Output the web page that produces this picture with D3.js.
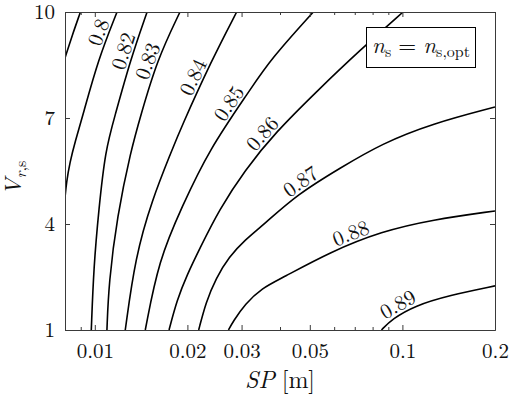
<!DOCTYPE html>
<html>

<head>
  <meta charset="utf-8">
  <title>SP vs Vr,s contour</title>
  <style>
    body { margin: 0; background: #fff; }
    svg text { font-family: "Latin Modern Roman", "CMU Serif", "Liberation Serif", "Times New Roman", "DejaVu Serif", serif; fill: #111; }
  </style>
</head>

<body>
  <svg width="510" height="397"></svg>
  <script src="https://d3js.org/d3.v7.min.js"></script>
  <script>
    // contour levels, left to right (first one has no label in the figure)
    var levels = [0.78, 0.8, 0.82, 0.83, 0.84, 0.85, 0.86, 0.87, 0.88, 0.89];
    var labelText = ["", "0.8", "0.82", "0.83", "0.84", "0.85", "0.86", "0.87", "0.88", "0.89"];

    // each contour as [SP, V] points
    var line078 = [[0.00898, 10], [0.00843, 9.32], [0.0080, 8.70]];
    var line080 = [[0.01181, 10], [0.01024, 8.64], [0.00915, 7.08], [0.00862, 6.32], [0.00830, 5.75], [0.00809, 5.19], [0.0080, 4.74]];
    var line082 = [[0.01479, 10], [0.01305, 8.64], [0.01160, 7.03], [0.01082, 6.09], [0.01030, 4.40], [0.00992, 2.79], [0.00974, 1]];
    var line083 = [[0.01892, 10], [0.01593, 8.64], [0.01406, 7.03], [0.01311, 6.09], [0.01181, 4.21], [0.01110, 2.32], [0.01095, 1]];
    var line084 = [[0.02892, 10], [0.02399, 8.64], [0.01892, 6.66], [0.01782, 6.09], [0.01534, 4.68], [0.01354, 3.07], [0.01256, 1]];
    var line085 = [[0.05133, 10], [0.03711, 8.64], [0.03196, 7.79], [0.02346, 6.09], [0.01921, 4.49], [0.01614, 2.98], [0.01459, 1]];
    var line086 = [[0.1005, 10], [0.0728, 8.92], [0.05316, 7.79], [0.03853, 6.58], [0.03078, 5.53], [0.02534, 4.40], [0.02198, 3.32], [0.01994, 2.56], [0.01850, 1.85], [0.01743, 1]];
    var line087 = [[0.2, 7.31], [0.1248, 6.84], [0.0855, 6.27], [0.0632, 5.60], [0.0455, 4.84], [0.0354, 3.98], [0.03078, 3.55], [0.02731, 3.07], [0.02478, 2.47], [0.02298, 1.79], [0.02176, 1]];
    var line088 = [[0.2, 4.37], [0.1248, 4.12], [0.0855, 3.79], [0.0586, 3.22], [0.0402, 2.45], [0.0350, 2.19], [0.0308, 1.74], [0.0281, 1.23], [0.0272, 1]];
    var line089 = [[0.2, 2.25], [0.1418, 1.98], [0.1099, 1.69], [0.0925, 1.31], [0.0855, 1]];
    var contourLines = [line078, line080, line082, line083, line084, line085, line086, line087, line088, line089];

    // where each label sits (SP, V), null = no label
    var labelAt = [null, [0.00987, 9.49], [0.01226, 8.90], [0.01479, 8.61], [0.02009, 8.22],
      [0.02684, 7.46], [0.03405, 6.65], [0.0450, 5.41], [0.0665, 3.93], [0.0946, 1.88]];

    var xTicks = [0.01, 0.02, 0.03, 0.05, 0.1, 0.2];
    var xMinor = [0.009, 0.04, 0.06, 0.07, 0.08, 0.09];
    var yTicks = [1, 4, 7, 10];

    var svg = d3.select("svg");
    var pLeft = 65, pTop = 12, pRight = 495, pBottom = 330;

    var x = d3.scaleLog().domain([0.008, 0.2]).range([pLeft, pRight]);
    var y = d3.scaleLinear().domain([1, 10]).range([pBottom, pTop]);

    svg.append("clipPath").attr("id", "plot")
      .append("rect").attr("x", pLeft).attr("y", pTop)
      .attr("width", pRight - pLeft).attr("height", pBottom - pTop);

    // contour lines
    var lineGen = d3.line()
      .x(function (d) { return x(d[0]); })
      .y(function (d) { return y(d[1]); })
      .curve(d3.curveBasis);

    var paths = svg.append("g")
      .attr("clip-path", "url(#plot)")
      .selectAll("path")
      .data(contourLines)
      .enter()
      .append("path")
      .attr("d", lineGen)
      .attr("fill", "none")
      .attr("stroke", "#000")
      .attr("stroke-width", 1.6);

    // labels sit just above their line, turned with it
    var labels = svg.append("g");
    paths.each(function (d, i) {
      if (!labelAt[i]) return;
      var node = this;
      var tx = x(labelAt[i][0]), ty = y(labelAt[i][1]);
      var len = node.getTotalLength(), best = 0, bestD = Infinity;
      for (var s = 0; s <= len; s += 0.5) {
        var p = node.getPointAtLength(s);
        var dd = (p.x - tx) * (p.x - tx) + (p.y - ty) * (p.y - ty);
        if (dd < bestD) { bestD = dd; best = s; }
      }
      var p0 = node.getPointAtLength(best);
      var p1 = node.getPointAtLength(Math.max(0, best - 4));
      var p2 = node.getPointAtLength(Math.min(len, best + 4));
      var ang = Math.atan2(p2.y - p1.y, p2.x - p1.x) * 180 / Math.PI;
      if (ang > 90) ang -= 180;
      if (ang < -90) ang += 180;
      labels.append("text")
        .attr("transform", "translate(" + p0.x + "," + p0.y + ") rotate(" + ang + ")")
        .attr("y", -3)
        .attr("text-anchor", "middle")
        .attr("font-size", 21)
        .text(labelText[i]);
    });

    // axes: ticks point inwards on all four sides
    var axisColor = "#3a3a3a";
    function style(g) {
      g.attr("font-family", null);
      g.select(".domain").attr("stroke", axisColor).attr("stroke-width", 1);
      g.selectAll(".tick line").attr("stroke", axisColor);
      g.selectAll(".tick text").attr("font-size", 21).attr("fill", "#111");
    }

    svg.append("g").attr("transform", "translate(0," + pBottom + ")")
      .call(d3.axisBottom(x).tickValues(xTicks).tickSize(-5).tickSizeOuter(0).tickPadding(13)
        .tickFormat(function (d) { return String(d); }))
      .call(style);
    svg.append("g").attr("transform", "translate(0," + pBottom + ")")
      .call(d3.axisBottom(x).tickValues(xMinor).tickSize(-3).tickSizeOuter(0).tickFormat(""))
      .call(style);
    svg.append("g").attr("transform", "translate(0," + pTop + ")")
      .call(d3.axisTop(x).tickValues(xTicks).tickSize(-5).tickSizeOuter(0).tickFormat(""))
      .call(style);
    svg.append("g").attr("transform", "translate(0," + pTop + ")")
      .call(d3.axisTop(x).tickValues(xMinor).tickSize(-3).tickSizeOuter(0).tickFormat(""))
      .call(style);
    svg.append("g").attr("transform", "translate(" + pLeft + ",0)")
      .call(d3.axisLeft(y).tickValues(yTicks).tickSize(-5).tickSizeOuter(0).tickPadding(10)
        .tickFormat(function (d) { return String(d); }))
      .call(style);
    svg.append("g").attr("transform", "translate(" + pRight + ",0)")
      .call(d3.axisRight(y).tickValues(yTicks).tickSize(-5).tickSizeOuter(0).tickFormat(""))
      .call(style);

    // axis titles
    var xt = svg.append("text")
      .attr("x", (pLeft + pRight) / 2).attr("y", 388)
      .attr("text-anchor", "middle").attr("font-size", 24);
    xt.append("tspan").attr("font-style", "italic").text("SP");
    xt.append("tspan").attr("dx", 7).text("[m]");

    var yt = svg.append("text")
      .attr("transform", "translate(21,178) rotate(-90)")
      .attr("text-anchor", "middle").attr("font-size", 23);
    yt.append("tspan").attr("font-style", "italic").text("V");
    yt.append("tspan").attr("font-style", "italic").attr("font-size", 16).attr("dy", 5).text("r");
    yt.append("tspan").attr("font-size", 16).text(",s");

    // legend box
    var lx = 366, ly = 27, lw = 109, lh = 40;
    svg.append("rect")
      .attr("x", lx + 0.5).attr("y", ly + 0.5).attr("width", lw).attr("height", lh)
      .attr("fill", "#fff").attr("stroke", "#000").attr("stroke-width", 1);
    var lt = svg.append("text")
      .attr("x", lx + lw / 2 + 0.5).attr("y", ly + 26)
      .attr("text-anchor", "middle").attr("font-size", 23);
    lt.append("tspan").attr("font-style", "italic").text("n");
    lt.append("tspan").attr("font-size", 16).attr("dy", 4).text("s");
    lt.append("tspan").attr("dy", -4).attr("dx", 7).text("=");
    lt.append("tspan").attr("font-style", "italic").attr("dx", 7).text("n");
    lt.append("tspan").attr("font-size", 16).attr("dy", 4).text("s,opt");
  </script>
</body>

</html>
